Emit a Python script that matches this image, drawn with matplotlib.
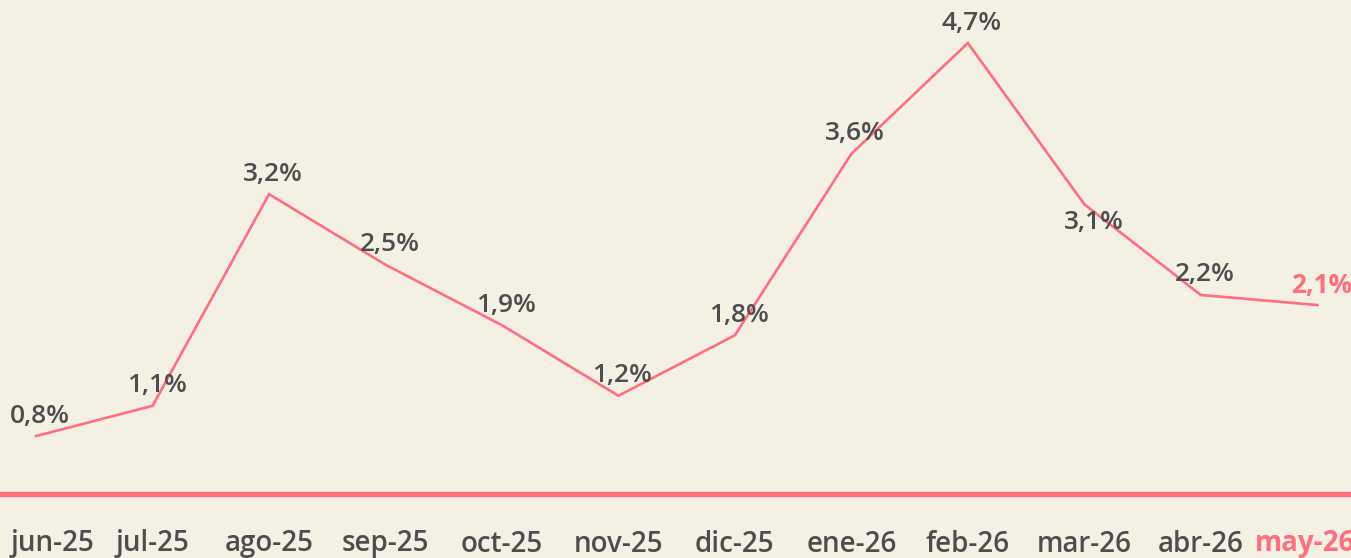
import matplotlib
matplotlib.use("Agg")
import matplotlib.pyplot as plt

# monthly values (%)
months = ["jun-25", "jul-25", "ago-25", "sep-25", "oct-25", "nov-25",
          "dic-25", "ene-26", "feb-26", "mar-26", "abr-26", "may-26"]
values = [0.8, 1.1, 3.2, 2.5, 1.9, 1.2, 1.8, 3.6, 4.7, 3.1, 2.2, 2.1]
labels = ["0,8%", "1,1%", "3,2%", "2,5%", "1,9%", "1,2%",
          "1,8%", "3,6%", "4,7%", "3,1%", "2,2%", "2,1%"]

bg = "#F4F0E4"
pink = "#FF6F7D"
grey = "#4D4D4D"
font = ["Open Sans", "DejaVu Sans"]

fig = plt.figure(figsize=(13.51, 5.58), dpi=100, facecolor=bg)
ax = fig.add_axes([0, 1 - 494 / 558, 1, 494 / 558])
ax.set_facecolor(bg)

x = list(range(len(months)))
ax.plot(x, values, color=pink, lw=1.9, solid_joinstyle="miter")

for i, (v, lab) in enumerate(zip(values, labels)):
    last = i == len(values) - 1
    dy = -18 if lab == "3,1%" else 20
    dx = 10 if lab == "3,1%" else 4
    ax.annotate(lab, (i, v), xytext=(dx, dy), textcoords="offset pixels",
                ha="center", va="center", fontsize=19, family=font,
                fontweight="bold" if last else "semibold",
                color=pink if last else grey)

# month labels under the baseline; edge ones nudged inward like the original
for i, m in enumerate(months):
    last = i == len(months) - 1
    dx = 16 if i == 0 else (-12 if last else 0)
    ax.annotate(m, (i, 0), xycoords=("data", "axes fraction"),
                xytext=(dx, -50), textcoords="offset pixels",
                ha="center", va="center", fontsize=20, family=font,
                fontweight="bold" if last else "semibold",
                color=pink if last else grey, annotation_clip=False)

ax.set_xlim(-0.31, 11.29)
ax.set_ylim(0.225, 5.127)
for s in ["top", "right", "left"]:
    ax.spines[s].set_visible(False)
ax.spines["bottom"].set_color(pink)
ax.spines["bottom"].set_linewidth(3.8)
ax.set_yticks([])
ax.set_xticks([])

fig.savefig("out.png", dpi=100, facecolor=bg)
